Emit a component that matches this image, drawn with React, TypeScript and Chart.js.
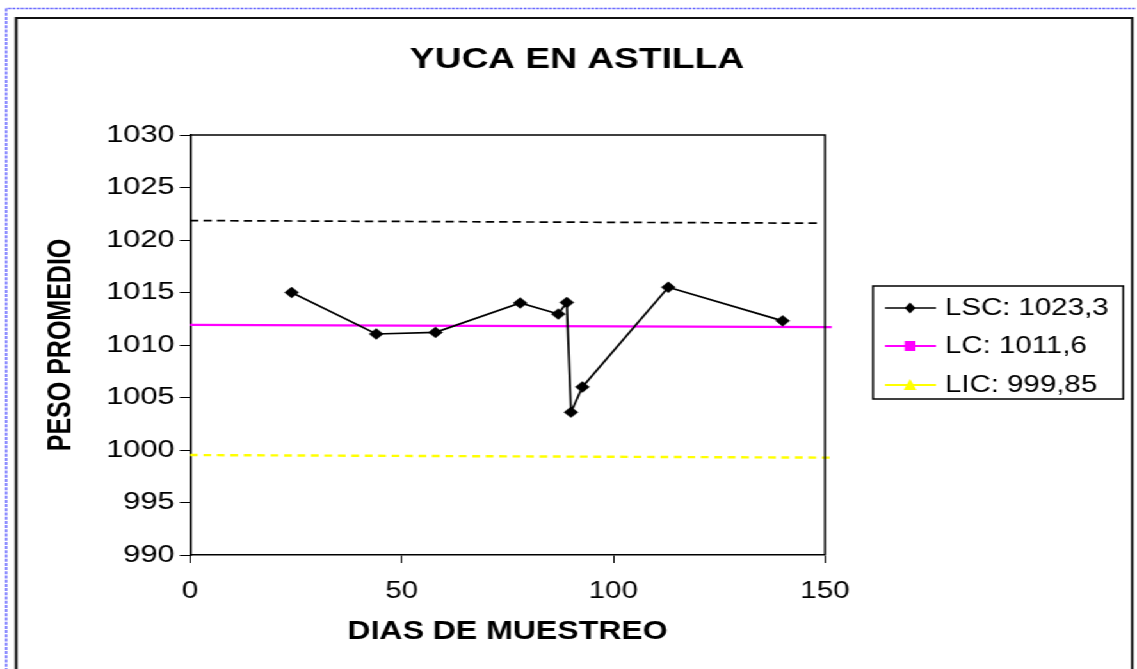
import React, { useEffect, useRef } from "react";
import { Chart, registerables } from "chart.js";

Chart.register(...registerables);

// ---- data ----
const chartTitle = "YUCA EN ASTILLA";
const xAxisTitle = "DIAS DE MUESTREO";
const yAxisTitle = "PESO PROMEDIO";

const sampleDays = [24, 44, 58, 78, 87, 89, 90, 92.7, 113, 140];
const sampleWeights = [1015.0, 1011.05, 1011.2, 1014.0, 1012.95, 1014.05, 1003.6, 1006.0, 1015.5, 1012.3];

const upperLimitDays = [0, 148.3];
const upperLimitValues = [1021.85, 1021.6];
const centerLineDays = [0, 151.6];
const centerLineValues = [1011.92, 1011.7];
const lowerLimitDays = [0, 151.3];
const lowerLimitValues = [999.52, 999.27];

const legendLabels = ["LSC: 1023,3", "LC: 1011,6", "LIC: 999,85"];
const xTickRange = [0, 150, 50]; // min, max, step
const yTickRange = [990, 1030, 5]; // min, max, step

// ---- layout (inner, un-stretched coordinates) ----
const INNER_W = 888;
const H = 669;
const STRETCH = 1137 / INNER_W;
const FONT = "'Liberation Sans', Arial, Helvetica, sans-serif";

const toPoints = (xs: number[], ys: number[]) => xs.map((x, i) => ({ x, y: ys[i] }));

const decorPlugin = {
  id: "decor",
  beforeDraw(chart: any) {
    const ctx = chart.ctx;
    ctx.save();
    ctx.fillStyle = "#ffffff";
    ctx.fillRect(0, 0, chart.width, chart.height);
    // dotted blue outer border
    ctx.strokeStyle = "rgba(95,95,255,0.95)";
    ctx.lineWidth = 1.7;
    ctx.setLineDash([2.4, 0.9]);
    ctx.beginPath();
    ctx.moveTo(886.5, 8.5);
    ctx.lineTo(4.8, 8.5);
    ctx.stroke();
    ctx.lineWidth = 1.6;
    ctx.setLineDash([3, 1.2]);
    ctx.beginPath();
    ctx.moveTo(4.8, 8.5);
    ctx.lineTo(4.8, 700);
    ctx.stroke();
    ctx.setLineDash([]);
    // black frame
    ctx.strokeStyle = "#111";
    ctx.lineWidth = 2;
    ctx.beginPath();
    ctx.moveTo(12.6, 720);
    ctx.lineTo(12.6, 18);
    ctx.lineTo(884.3, 18);
    ctx.lineTo(884.3, 720);
    ctx.stroke();
    ctx.restore();
  },
  afterDraw(chart: any) {
    const ctx = chart.ctx;
    const a = chart.chartArea;
    ctx.save();
    // plot frame (top and right)
    ctx.strokeStyle = "#000";
    ctx.lineWidth = 1.5;
    ctx.beginPath();
    ctx.moveTo(a.left, a.top);
    ctx.lineTo(a.right, a.top);
    ctx.lineTo(a.right, a.bottom);
    ctx.stroke();

    // title
    ctx.fillStyle = "#000";
    ctx.font = `bold 29px ${FONT}`;
    ctx.textAlign = "center";
    ctx.textBaseline = "middle";
    ctx.fillText(chartTitle, 450.6, 60);

    // legend
    const bx = 681.8, by = 286, bw = 195.5, bh = 113;
    ctx.lineWidth = 1.5;
    ctx.strokeStyle = "#000";
    ctx.strokeRect(bx, by, bw, bh);
    const rows = [308, 346, 385];
    const colors = ["#000000", "#ff00ff", "#ffff00"];
    const widths = [1.6, 2.2, 2.2];
    ctx.font = `23px ${FONT}`;
    ctx.textAlign = "left";
    rows.forEach((ry, i) => {
      ctx.strokeStyle = colors[i];
      ctx.lineWidth = widths[i];
      ctx.beginPath();
      ctx.moveTo(691.2, ry);
      ctx.lineTo(731, ry);
      ctx.stroke();
      ctx.fillStyle = colors[i];
      const cx = 710.8;
      ctx.beginPath();
      if (i === 0) {
        ctx.moveTo(cx, ry - 5.5);
        ctx.lineTo(cx + 4.2, ry);
        ctx.lineTo(cx, ry + 5.5);
        ctx.lineTo(cx - 4.2, ry);
        ctx.closePath();
        ctx.fill();
      } else if (i === 1) {
        ctx.fillRect(cx - 4.2, ry - 5, 8.4, 10);
      } else {
        ctx.moveTo(cx, ry - 6);
        ctx.lineTo(cx + 5, ry + 5);
        ctx.lineTo(cx - 5, ry + 5);
        ctx.closePath();
        ctx.fill();
      }
      ctx.fillStyle = "#000";
      ctx.fillText(legendLabels[i], 738, ry + 1);
    });
    ctx.restore();
  },
};

export default function App() {
  const canvasRef = useRef<HTMLCanvasElement | null>(null);

  useEffect(() => {
    document.body.style.overflow = "hidden";
    const canvas = canvasRef.current;
    if (!canvas) return;
    const chart = new Chart(canvas, {
      type: "scatter",
      data: {
        datasets: [
          {
            label: "Muestras",
            data: toPoints(sampleDays, sampleWeights),
            showLine: true,
            borderColor: "#000",
            borderWidth: 1.7,
            backgroundColor: "#000",
            pointStyle: "rectRot",
            pointRadius: 5.4,
            pointBorderWidth: 0.5,
            pointBorderColor: "#000",
            pointBackgroundColor: "#000",
            order: 1,
          },
          {
            label: "LSC",
            data: toPoints(upperLimitDays, upperLimitValues),
            showLine: true,
            borderColor: "#000",
            borderWidth: 1.7,
            borderDash: [6.5, 4],
            pointRadius: 0,
            clip: false,
            order: 2,
          },
          {
            label: "LC",
            data: toPoints(centerLineDays, centerLineValues),
            showLine: true,
            borderColor: "#ff00ff",
            borderWidth: 2.2,
            pointRadius: 0,
            clip: false,
            order: 3,
          },
          {
            label: "LIC",
            data: toPoints(lowerLimitDays, lowerLimitValues),
            showLine: true,
            borderColor: "#ffff00",
            borderWidth: 2.4,
            borderDash: [6, 4.5],
            pointRadius: 0,
            clip: false,
            order: 4,
          },
        ],
      },
      options: {
        animation: false,
        responsive: true,
        maintainAspectRatio: false,
        events: [],
        layout: { padding: { left: 33.4, top: 135, right: 243.7, bottom: 22 } },
        plugins: {
          legend: { display: false },
          title: { display: false },
          tooltip: { enabled: false },
        },
        scales: {
          x: {
            type: "linear",
            min: xTickRange[0],
            max: xTickRange[1],
            ticks: {
              stepSize: xTickRange[2],
              color: "#000",
              font: { family: FONT, size: 23 },
              padding: 15,
              callback: (v: any) => String(v),
            },
            grid: { drawOnChartArea: false, drawTicks: true, tickLength: 8, color: "#000", lineWidth: 1 },
            border: { display: true, color: "#000", width: 1.5 },
            title: {
              display: true,
              text: xAxisTitle,
              color: "#000",
              font: { family: FONT, size: 25, weight: "bold" },
              padding: 0,
            },
            afterFit: (scale: any) => {
              scale.height = 92;
            },
          },
          y: {
            type: "linear",
            min: yTickRange[0],
            max: yTickRange[1],
            ticks: {
              stepSize: yTickRange[2],
              color: "#000",
              font: { family: FONT, size: 24 },
              padding: 4,
              callback: (v: any) => String(v),
            },
            grid: { drawOnChartArea: false, drawTicks: true, tickLength: 8, color: "#000", lineWidth: 1 },
            border: { display: true, color: "#000", width: 1.7 },
            title: {
              display: true,
              text: yAxisTitle,
              color: "#000",
              font: { family: FONT, size: 25, weight: "bold" },
              padding: 0,
            },
            afterFit: (scale: any) => {
              scale.width = 115;
            },
          },
        },
      },
      plugins: [decorPlugin],
    } as any);
    return () => chart.destroy();
  }, []);

  return (
    <div
      style={{
        position: "absolute",
        left: 0,
        top: 0,
        width: INNER_W + "px",
        height: H + "px",
        transform: `scaleX(${STRETCH})`,
        transformOrigin: "0 0",
        background: "#fff",
      }}
    >
      <canvas ref={canvasRef} />
    </div>
  );
}
